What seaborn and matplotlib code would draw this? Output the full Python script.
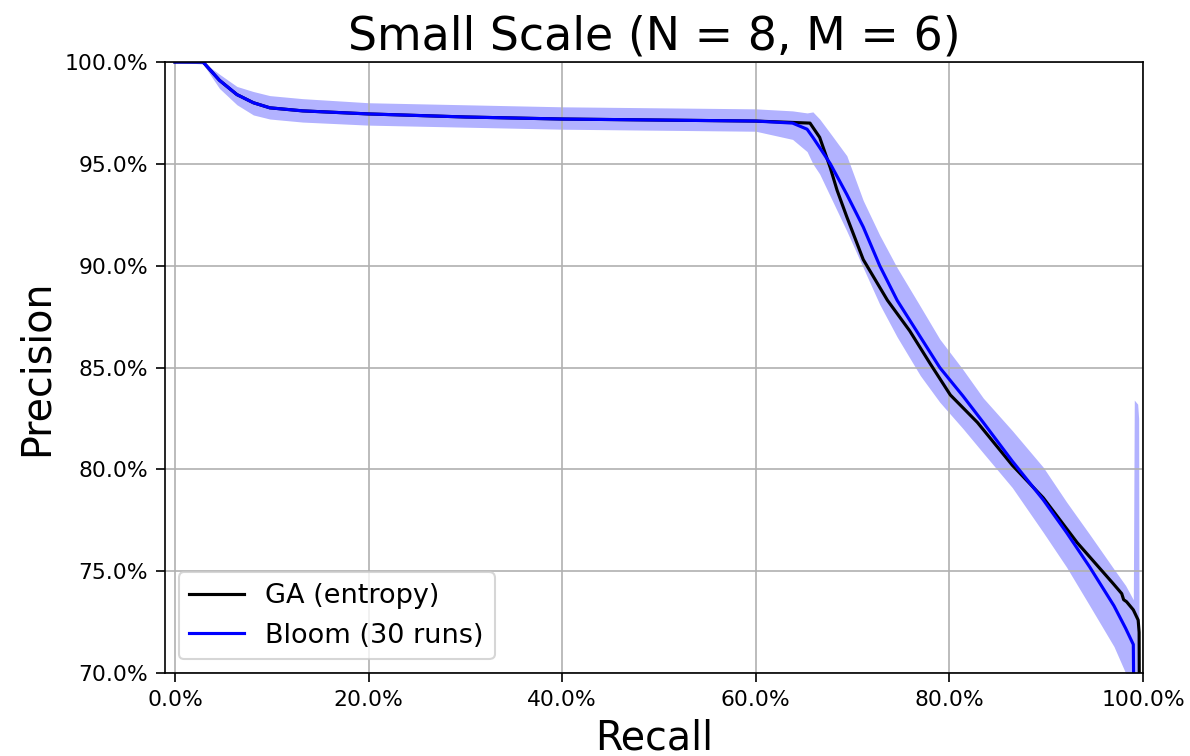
import matplotlib
matplotlib.use("Agg")
import matplotlib.pyplot as plt
from matplotlib.ticker import PercentFormatter
import seaborn as sns
import numpy as np

# ---------------- data (percent) ----------------
bloom_recall = [0, 2.9, 4.6, 6.4, 8.1, 9.8, 13.2, 20, 30, 40, 50, 60, 63.8, 65.3,
                65.9, 66.6, 67.7, 69.4, 71.1, 72.8, 74.6, 77.0, 79.0, 81.4, 83.5,
                86.5, 89.7, 92.1, 94.5, 97.0, 98.2, 99.0, 99.1, 99.45, 99.55, 99.6]
bloom_mean = [100, 100, 99.1, 98.4, 98.0, 97.75, 97.6, 97.45, 97.3, 97.2, 97.15, 97.1,
              97.0, 96.7, 96.3, 95.8, 95.0, 93.5, 91.9, 90.0, 88.3, 86.5, 85.0, 83.6,
              82.3, 80.4, 78.5, 76.9, 75.2, 73.3, 72.2, 71.4, 66.0, 62.0, 62.0, 62.0]
bloom_upper = [100, 100, 99.4, 98.8, 98.55, 98.35, 98.2, 98.0, 97.9, 97.8, 97.75, 97.7,
               97.6, 97.5, 97.55, 97.2, 96.5, 95.4, 93.2, 91.5, 89.9, 88.0, 86.4, 84.9,
               83.5, 81.9, 80.1, 78.4, 76.8, 75.1, 74.3, 73.6, 83.4, 83.2, 82.5, 69.0]
bloom_lower = [100, 99.9, 98.7, 97.9, 97.4, 97.2, 97.05, 96.9, 96.8, 96.7, 96.65, 96.6,
               96.2, 95.6, 95.0, 94.5, 93.4, 91.7, 89.9, 88.1, 86.5, 84.6, 83.3, 82.0,
               80.8, 79.1, 76.9, 75.2, 73.3, 71.3, 70.0, 69.0, 68.5, 68.0, 67.5, 67.0]

ga_recall = [0, 2.9, 4.6, 6.4, 8.1, 9.8, 13.2, 20, 30, 40, 50, 60, 65.6, 66.6, 67.7,
             68.4, 69.4, 71.1, 73.6, 75.9, 78.0, 80.1, 82.9, 86.5, 89.7, 93.2, 96.9,
             97.8, 98.0, 98.3, 99.0, 99.5, 99.6, 99.65]
ga_precision = [100, 100, 99.1, 98.4, 98.0, 97.75, 97.6, 97.45, 97.3, 97.2, 97.15, 97.1,
                97.0, 96.3, 94.8, 93.7, 92.4, 90.3, 88.3, 86.8, 85.2, 83.65, 82.3, 80.2,
                78.6, 76.4, 74.4, 73.9, 73.6, 73.5, 73.1, 72.6, 72.0, 65.0]

title = "Small Scale (N = 8, M = 6)"
x_ticks = [0, 20, 40, 60, 80, 100]
y_ticks = [70, 75, 80, 85, 90, 95, 100]

# ---------------- plot ----------------
fig = plt.figure(figsize=(1190 / 150, 756 / 150), dpi=150)
ax = fig.add_axes([165 / 1190, 1 - 673 / 756, (1143 - 165) / 1190, (673 - 62) / 756])

sns.lineplot(x=ga_recall, y=ga_precision, color="black", label="GA (entropy)",
             estimator=None, sort=False, ax=ax, linewidth=1.5)
sns.lineplot(x=bloom_recall, y=bloom_mean, color="blue", label="Bloom (30 runs)",
             estimator=None, sort=False, ax=ax, linewidth=1.5)
ax.fill_between(bloom_recall, bloom_lower, bloom_upper, color="blue", alpha=0.3,
                linewidth=0)

ax.set_xlim(-1.03, 100)
ax.set_ylim(70, 100)
ax.set_xticks(x_ticks)
ax.set_yticks(y_ticks)
ax.xaxis.set_major_formatter(PercentFormatter(xmax=100, decimals=1))
ax.yaxis.set_major_formatter(PercentFormatter(xmax=100, decimals=1))
ax.tick_params(labelsize=10.5, length=4.5)
ax.grid(True, color="#b0b0b0", linewidth=0.8)

ax.set_title(title, fontsize=22)
ax.set_xlabel("Recall", fontsize=19)
ax.set_ylabel("Precision", fontsize=19)
ax.legend(loc="lower left", fontsize=13)

fig.savefig("out.png", dpi=150)
